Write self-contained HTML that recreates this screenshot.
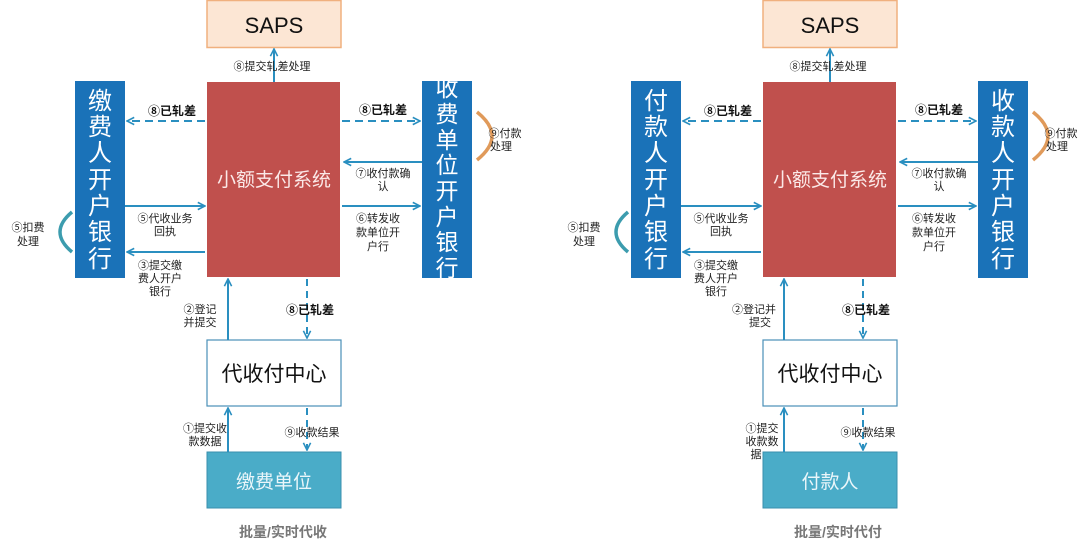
<!DOCTYPE html>
<html><head><meta charset="utf-8"><style>
html,body{margin:0;padding:0;background:#fff;width:1080px;height:549px;overflow:hidden}
svg{display:block;font-family:"Liberation Sans","Noto Sans CJK SC",sans-serif}
.s{font-size:11px;fill:#222}
.b{font-size:12px;font-weight:bold;fill:#111}
.v{font-size:24px;fill:#fff}
.v8{font-size:23px;fill:#fff}
</style></head><body>
<svg width="1080" height="549" viewBox="0 0 1080 549">
<defs>
<marker id="a" viewBox="0 0 10 10" refX="9" refY="5" markerWidth="9" markerHeight="9" orient="auto-start-reverse" markerUnits="userSpaceOnUse"><path d="M1 1L9 5L1 9" fill="none" stroke="#2a8fc0" stroke-width="1.8"/></marker>
</defs>
<g id="L">
<rect x="207" y="0.5" width="134" height="47" fill="#fce6d4" stroke="#f0b07e" stroke-width="1.5"/>
<text x="274" y="33" font-size="22" text-anchor="middle" fill="#111">SAPS</text>
<rect x="207" y="82" width="133" height="195" fill="#c0504d"/>
<text x="274" y="186" font-size="19" text-anchor="middle" fill="#fbe9e8">小额支付系统</text>
<rect x="207" y="340" width="134" height="66" fill="#fff" stroke="#4a90b8" stroke-width="1.2"/>
<text x="274" y="381" font-size="21" text-anchor="middle" fill="#111">代收付中心</text>
<rect x="207" y="452" width="134" height="56" fill="#4aacc8" stroke="#3a8fae"/>
<g stroke="#2a8fc0" stroke-width="2" fill="none">
<line x1="274" y1="82" x2="274" y2="49" marker-end="url(#a)"/>
<line x1="205" y1="121" x2="127" y2="121" stroke-dasharray="8,5" marker-end="url(#a)"/>
<line x1="342" y1="121" x2="420" y2="121" stroke-dasharray="8,5" marker-end="url(#a)"/>
<line x1="422" y1="162" x2="344" y2="162" marker-end="url(#a)"/>
<line x1="125" y1="206" x2="205" y2="206" marker-end="url(#a)"/>
<line x1="342" y1="206" x2="420" y2="206" marker-end="url(#a)"/>
<line x1="205" y1="252" x2="127" y2="252" marker-end="url(#a)"/>
<line x1="228" y1="340" x2="228" y2="279" marker-end="url(#a)"/>
<line x1="307" y1="279" x2="307" y2="338" stroke-dasharray="7,5" marker-end="url(#a)"/>
<line x1="228" y1="452" x2="228" y2="408" marker-end="url(#a)"/>
<line x1="307" y1="408" x2="307" y2="450" stroke-dasharray="7,5" marker-end="url(#a)"/>
</g>
<path d="M72 212 Q48 232 72 252" stroke="#3c9cae" stroke-width="3.5" fill="none"/>
<path d="M477 112 Q507 136 477 160" stroke="#e09a5a" stroke-width="3.5" fill="none"/>
<text class="s" x="272" y="70" text-anchor="middle">⑧提交轧差处理</text>
<text class="b" x="172" y="115" text-anchor="middle">⑧已轧差</text>
<text class="b" x="383" y="114" text-anchor="middle">⑧已轧差</text>
<text class="s" x="383" y="177" text-anchor="middle">⑦收付款确</text>
<text class="s" x="383" y="190" text-anchor="middle">认</text>
<text class="s" x="165" y="222" text-anchor="middle">⑤代收业务</text>
<text class="s" x="165" y="235" text-anchor="middle">回执</text>
<text class="s" x="378" y="222" text-anchor="middle">⑥转发收</text>
<text class="s" x="378" y="236" text-anchor="middle">款单位开</text>
<text class="s" x="378" y="250" text-anchor="middle">户行</text>
<text class="s" x="160" y="269" text-anchor="middle">③提交缴</text>
<text class="s" x="160" y="282" text-anchor="middle">费人开户</text>
<text class="s" x="160" y="295" text-anchor="middle">银行</text>
<text class="s" x="28" y="231" text-anchor="middle">⑤扣费</text>
<text class="s" x="28" y="245" text-anchor="middle">处理</text>
<text class="s" x="505" y="137" text-anchor="middle">⑨付款</text>
<text class="s" x="501" y="150" text-anchor="middle">处理</text>
<text class="b" x="310" y="314" text-anchor="middle">⑧已轧差</text>
<text class="s" x="312" y="436" text-anchor="middle">⑨收款结果</text>
</g>
<rect x="75" y="81" width="50" height="197" fill="#1a72b8"/>
<text class="v" text-anchor="middle"><tspan x="100" y="109">缴</tspan><tspan x="100" y="135">费</tspan><tspan x="100" y="161">人</tspan><tspan x="100" y="188">开</tspan><tspan x="100" y="214">户</tspan><tspan x="100" y="240">银</tspan><tspan x="100" y="267">行</tspan></text>
<rect x="422" y="81" width="50" height="197" fill="#1a72b8"/>
<text class="v8" text-anchor="middle"><tspan x="447" y="96">收</tspan><tspan x="447" y="122">费</tspan><tspan x="447" y="148">单</tspan><tspan x="447" y="173">位</tspan><tspan x="447" y="199">开</tspan><tspan x="447" y="225">户</tspan><tspan x="447" y="250">银</tspan><tspan x="447" y="276">行</tspan></text>
<text class="s" x="200" y="313" text-anchor="middle">②登记</text>
<text class="s" x="200" y="326" text-anchor="middle">并提交</text>
<text class="s" x="205" y="432" text-anchor="middle">①提交收</text>
<text class="s" x="205" y="445" text-anchor="middle">款数据</text>
<text x="274" y="488" font-size="19" text-anchor="middle" fill="#eaf6fa">缴费单位</text>
<text x="283" y="537" font-size="14" font-weight="bold" text-anchor="middle" fill="#777">批量/实时代收</text>
<use href="#L" transform="translate(556,0)"/>
<rect x="631" y="81" width="50" height="197" fill="#1a72b8"/>
<text class="v" text-anchor="middle"><tspan x="656" y="109">付</tspan><tspan x="656" y="135">款</tspan><tspan x="656" y="161">人</tspan><tspan x="656" y="188">开</tspan><tspan x="656" y="214">户</tspan><tspan x="656" y="240">银</tspan><tspan x="656" y="267">行</tspan></text>
<rect x="978" y="81" width="50" height="197" fill="#1a72b8"/>
<text class="v" text-anchor="middle"><tspan x="1003" y="109">收</tspan><tspan x="1003" y="135">款</tspan><tspan x="1003" y="161">人</tspan><tspan x="1003" y="188">开</tspan><tspan x="1003" y="214">户</tspan><tspan x="1003" y="240">银</tspan><tspan x="1003" y="267">行</tspan></text>
<text class="s" x="754" y="313" text-anchor="middle">②登记并</text>
<text class="s" x="760" y="326" text-anchor="middle">提交</text>
<text class="s" x="762" y="432" text-anchor="middle">①提交</text>
<text class="s" x="762" y="445" text-anchor="middle">收款数</text>
<text class="s" x="756" y="458" text-anchor="middle">据</text>
<text x="830" y="488" font-size="19" text-anchor="middle" fill="#eaf6fa">付款人</text>
<text x="838" y="537" font-size="14" font-weight="bold" text-anchor="middle" fill="#777">批量/实时代付</text>
</svg>
</body></html>
